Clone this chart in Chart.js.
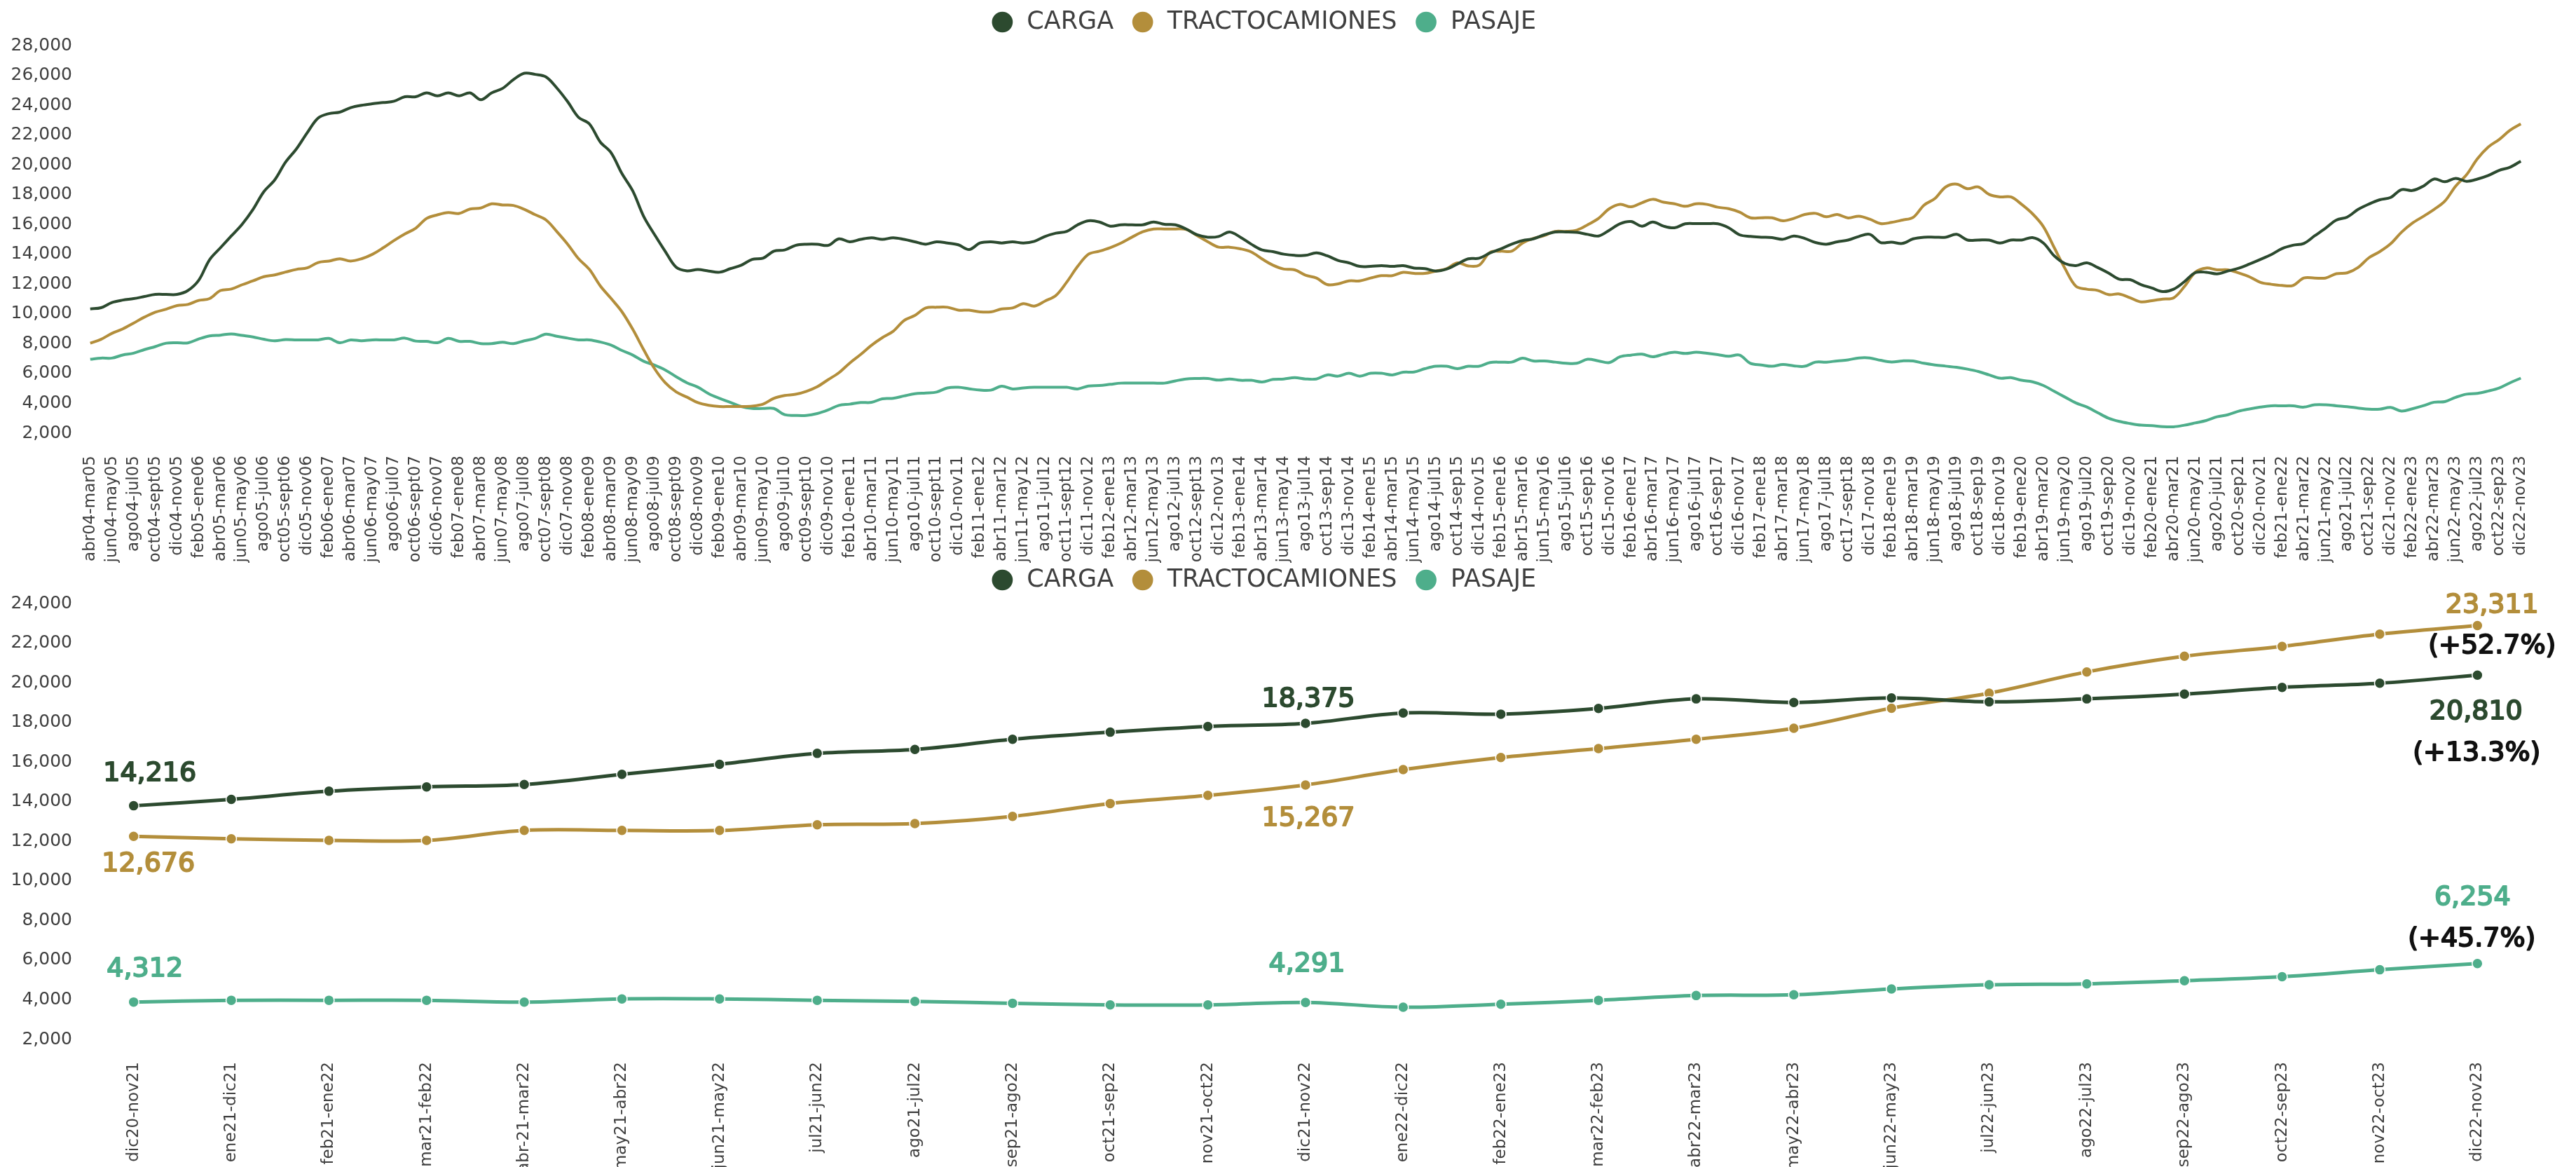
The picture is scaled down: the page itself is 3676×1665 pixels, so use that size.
<!DOCTYPE html>
<html lang="es">
<head>
<meta charset="utf-8">
<title>Ventas de vehículos pesados</title>
<script src="https://cdn.jsdelivr.net/npm/chart.js@4.4.1/dist/chart.umd.min.js"></script>
<style>
  html, body { margin: 0; padding: 0; background: #fff; }
  #lienzo { position: relative; width: 3676px; height: 1665px; overflow: hidden; background: #fff; }
  #lienzo canvas { position: absolute; left: 0; }
  #graficoHistorico { top: -10px; }
  #graficoReciente { top: 786px; }
</style>
</head>
<body>
<div id="lienzo">
  <canvas id="graficoHistorico" width="3676" height="830"></canvas>
  <canvas id="graficoReciente" width="3676" height="879"></canvas>
</div>
<script>
// Acumulado de 12 meses, de abr04-mar05 a nov20-oct21
const cargaHist = [
  10900, 10980, 11330, 11490, 11590, 11730, 11870, 11870, 11870, 12130,
  12820, 14200, 15000, 15790, 16580, 17570, 18760, 19550, 20740, 21630,
  22720, 23700, 24000, 24100, 24400, 24560, 24660, 24740, 24830, 25130,
  25130, 25390, 25190, 25390, 25190, 25390, 24930, 25390, 25690, 26280,
  26710, 26630, 26460, 25720, 24800, 23750, 23310, 22100, 21380, 19980,
  18810, 17110, 15890, 14750, 13690, 13450, 13540, 13440, 13360, 13600,
  13830, 14220, 14300, 14770, 14850, 15160, 15240, 15240, 15160, 15600,
  15400, 15560, 15670, 15560, 15670, 15560, 15400, 15240, 15400, 15320,
  15200, 14880, 15320, 15400, 15320, 15400, 15320, 15430, 15760, 15980,
  16100, 16540, 16810, 16730, 16450, 16540, 16540, 16540, 16730, 16570,
  16540, 16260, 15870, 15710, 15760, 16060, 15710, 15240, 14850, 14740,
  14570, 14490, 14490, 14660, 14460, 14150, 13990, 13750, 13750, 13800,
  13750, 13800, 13640, 13600, 13440, 13570, 13910, 14260, 14300, 14650,
  14930, 15240, 15480, 15600, 15870, 16060, 16060, 16030, 15900, 15790,
  16180, 16620, 16760, 16450, 16730, 16450, 16340, 16610, 16620, 16620,
  16610, 16340, 15870, 15760, 15710, 15680, 15570, 15790, 15630, 15350,
  15240, 15400, 15520, 15760, 15900, 15350, 15380, 15290, 15600, 15710,
  15710, 15710, 15900, 15520, 15520, 15520, 15320, 15520, 15520, 15680,
  15320, 14460, 13940, 13800, 13990, 13680, 13310, 12890, 12860, 12530,
  12300, 12060, 12220, 12730, 13330, 13360, 13250, 13440, 13630, 13910
];
const tractoHist = [
  8600, 8860, 9260, 9560, 9950, 10350, 10680, 10880, 11120, 11200,
  11470, 11590, 12130, 12230, 12520, 12780, 13060, 13180, 13370, 13550,
  13650, 14010, 14110, 14260, 14110, 14260, 14560, 15000, 15490, 15930,
  16310, 16970, 17210, 17360, 17300, 17600, 17670, 17950, 17870, 17840,
  17580, 17220, 16870, 16090, 15240, 14270, 13550, 12450, 11600, 10710,
  9530, 8170, 6900, 5940, 5330, 4980, 4610, 4430, 4350, 4350,
  4350, 4380, 4510, 4900, 5090, 5170, 5370, 5680, 6150, 6620,
  7270, 7840, 8460, 8970, 9400, 10120, 10460, 10960, 11010, 11010,
  10820, 10810, 10700, 10700, 10900, 10960, 11250, 11090, 11430, 11800,
  12700, 13750, 14570, 14770, 15010, 15320, 15710, 16070, 16260, 16260,
  16260, 16230, 15820, 15400, 15040, 15040, 14930, 14720, 14250, 13830,
  13570, 13520, 13160, 12970, 12530, 12580, 12780, 12780, 12970, 13130,
  13130, 13350, 13280, 13280, 13440, 13600, 13990, 13780, 13830, 14690,
  14770, 14770, 15320, 15630, 15820, 16100, 16100, 16180, 16540, 16970,
  17620, 17910, 17750, 18020, 18250, 18060, 17950, 17780, 17950, 17910,
  17720, 17620, 17390, 17010, 17010, 17010, 16810, 16970, 17230, 17310,
  17080, 17230, 17000, 17120, 16920, 16620, 16700, 16860, 17040, 17860,
  18300, 19080, 19270, 18960, 19080, 18580, 18410, 18410, 17910, 17280,
  16420, 15010, 13600, 12420, 12220, 12140, 11860, 11900, 11640, 11370,
  11450, 11560, 11640, 12400, 13360, 13640, 13520, 13520, 13310, 13050
];
const pasajeHist = [
  7520, 7600, 7600, 7810, 7930, 8170, 8370, 8600, 8630, 8620,
  8880, 9090, 9140, 9220, 9120, 9020, 8860, 8760, 8840, 8820,
  8820, 8820, 8920, 8630, 8820, 8760, 8820, 8820, 8820, 8940,
  8740, 8720, 8630, 8920, 8720, 8720, 8570, 8570, 8660, 8570,
  8760, 8920, 9200, 9060, 8940, 8820, 8820, 8680, 8470, 8110,
  7800, 7390, 7130, 6800, 6350, 5940, 5650, 5210, 4900, 4630,
  4350, 4220, 4220, 4220, 3800, 3750, 3750, 3880, 4120, 4430,
  4510, 4620, 4630, 4870, 4900, 5060, 5210, 5260, 5320, 5600,
  5640, 5540, 5450, 5450, 5710, 5530, 5600, 5640, 5640, 5640,
  5640, 5530, 5730, 5760, 5840, 5920, 5920, 5920, 5920, 5920,
  6070, 6200, 6230, 6230, 6120, 6200, 6110, 6110, 6000, 6170,
  6200, 6290, 6200, 6200, 6470, 6390, 6580, 6390, 6580, 6580,
  6470, 6650, 6670, 6890, 7050, 7050, 6890, 7050, 7050, 7300,
  7330, 7330, 7590, 7410, 7410, 7330, 7250, 7250, 7520, 7410,
  7300, 7690, 7800, 7860, 7690, 7860, 7990, 7910, 7990, 7920,
  7830, 7720, 7800, 7250, 7140, 7050, 7170, 7080, 7050, 7330,
  7330, 7410, 7480, 7610, 7610, 7450, 7340, 7410, 7410, 7250,
  7140, 7060, 6980, 6860, 6700, 6470, 6250, 6290, 6110, 6010,
  5760, 5370, 4980, 4590, 4320, 3940, 3570, 3350, 3210, 3100,
  3070, 3000, 2990, 3100, 3250, 3410, 3660, 3800, 4040, 4190
];

// Últimos 25 periodos de 12 meses
const periodosRecientes = [
  'dic20-nov21', 'ene21-dic21', 'feb21-ene22', 'mar21-feb22', 'abr-21-mar22',
  'may21-abr22', 'jun21-may22', 'jul21-jun22', 'ago21-jul22', 'sep21-ago22',
  'oct21-sep22', 'nov21-oct22', 'dic21-nov22', 'ene22-dic22', 'feb22-ene23',
  'mar22-feb23', 'abr22-mar23', 'may22-abr23', 'jun22-may23', 'jul22-jun23',
  'ago22-jul23', 'sep22-ago23', 'oct22-sep23', 'nov22-oct23', 'dic22-nov23'
];
const cargaReciente = [
  14216, 14540, 14950, 15170, 15290, 15800, 16310, 16860, 17060, 17570,
  17930, 18220, 18375, 18900, 18840, 19130, 19610, 19430, 19660, 19460,
  19610, 19850, 20190, 20400, 20810
];
const tractoReciente = [
  12676, 12550, 12470, 12470, 12970, 12970, 12970, 13260, 13320, 13680,
  14330, 14740, 15267, 16040, 16650, 17100, 17570, 18130, 19140, 19900,
  20970, 21760, 22260, 22880, 23311
];
const pasajeReciente = [
  4312, 4400, 4400, 4400, 4310, 4470, 4470, 4400, 4340, 4250,
  4170, 4170, 4291, 4050, 4200, 4400, 4640, 4680, 4970, 5180,
  5230, 5390, 5590, 5940, 6254
];

const colores = { carga: '#2c4a2f', tracto: '#b38e3b', pasaje: '#4eae8b' };

// Etiquetas de periodos móviles: 'abr04-mar05', 'jun04-may05', ...
const meses = ['ene', 'feb', 'mar', 'abr', 'may', 'jun', 'jul', 'ago', 'sep', 'oct', 'nov', 'dic'];
const aniosSept = [5, 6, 7, 8, 9, 10, 11, 12, 13, 18];
function etiquetaPeriodo(k) {
  const ini = 3 + k, fin = ini + 11;
  const aIni = 4 + Math.floor(ini / 12), aFin = 4 + Math.floor(fin / 12);
  let mFin = meses[fin % 12];
  if (mFin === 'sep' && aniosSept.includes(aFin)) mFin = 'sept';
  return meses[ini % 12] + String(aIni).padStart(2, '0') + '-' + mFin + String(aFin).padStart(2, '0');
}
const totalPeriodos = cargaHist.length + cargaReciente.length;
const periodos = Array.from({ length: totalPeriodos }, (_, k) => etiquetaPeriodo(k));

Chart.defaults.font.family = "'DejaVu Sans', sans-serif";
Chart.defaults.color = '#3f3f3f';

// Deja más aire debajo de la leyenda
function espacioLeyenda(extra) {
  return {
    id: 'espacioLeyenda',
    beforeInit(chart) {
      const fitOriginal = chart.legend.fit;
      chart.legend.fit = function () {
        fitOriginal.call(this);
        this.height += extra;
      };
    }
  };
}

const leyenda = {
  position: 'top',
  labels: {
    usePointStyle: true,
    pointStyle: 'circle',
    boxWidth: 35,
    boxHeight: 21,
    padding: 24,
    color: '#3f3f3f',
    font: { size: 35 },
    generateLabels: chart =>
      Chart.defaults.plugins.legend.labels.generateLabels(chart).map(l => ({ ...l, lineWidth: 0 }))
  }
};

function ejeY(max) {
  return {
    min: 2000,
    max,
    grid: { display: false },
    border: { display: false },
    ticks: {
      stepSize: 2000,
      padding: 10,
      labelOffset: -12,
      color: '#3f3f3f',
      font: { size: 25 },
      callback: v => v.toLocaleString('en-US')
    },
    afterFit: s => { s.width = 121; }
  };
}

function ejeX(etiqueta, alto) {
  return {
    offset: true,
    grid: { display: false },
    border: { display: false },
    ticks: {
      autoSkip: false,
      minRotation: 90,
      maxRotation: 90,
      padding: 12,
      color: '#3f3f3f',
      font: { size: 23 },
      callback: (v, i) => etiqueta(i)
    },
    afterFit: s => { s.height = alto; }
  };
}

function serie(nombre, datos, color, grosor, puntos) {
  return {
    label: nombre,
    data: datos,
    borderColor: color,
    backgroundColor: color,
    borderWidth: grosor,
    tension: 0.35,
    pointRadius: puntos ? 7.5 : 0,
    pointBackgroundColor: color,
    pointBorderColor: '#fff',
    pointBorderWidth: 1.5,
    pointHoverRadius: puntos ? 7.5 : 0
  };
}

// Gráfico histórico: todos los periodos de 12 meses
new Chart(document.getElementById('graficoHistorico'), {
  type: 'line',
  data: {
    labels: periodos,
    datasets: [
      serie('CARGA', cargaHist.concat(cargaReciente), colores.carga, 4, false),
      serie('TRACTOCAMIONES', tractoHist.concat(tractoReciente), colores.tracto, 4, false),
      serie('PASAJE', pasajeHist.concat(pasajeReciente), colores.pasaje, 4, false)
    ]
  },
  options: {
    responsive: false,
    animation: false,
    devicePixelRatio: 1,
    layout: { padding: { right: 71 } },
    plugins: { legend: leyenda, tooltip: { enabled: false } },
    scales: {
      x: ejeX(i => (i % 2 === 0 ? periodos[i] : ''), 190),
      y: ejeY(28000)
    }
  },
  plugins: [espacioLeyenda(18)]
});

// Etiquetas de valor y variación sobre puntos concretos
const etiquetasValor = {
  id: 'etiquetasValor',
  afterDatasetsDraw(chart, args, opts) {
    const { ctx } = chart;
    ctx.save();
    ctx.textAlign = 'center';
    ctx.textBaseline = 'middle';
    ctx.font = "38px 'DejaVu Sans'";
    ctx.lineWidth = 2;
    ctx.lineJoin = 'round';
    opts.items.forEach(it => {
      const ds = chart.data.datasets[it.serie];
      const pt = chart.getDatasetMeta(it.serie).data[it.indice];
      let texto, color;
      if (it.base !== undefined) {
        const pct = (ds.data[it.indice] / ds.data[it.base] - 1) * 100;
        texto = '(+' + pct.toFixed(1) + '%)';
        color = '#111';
      } else {
        texto = ds.data[it.indice].toLocaleString('en-US');
        color = ds.borderColor;
      }
      ctx.fillStyle = color;
      ctx.strokeStyle = color;
      ctx.fillText(texto, pt.x + it.dx, pt.y + it.dy);
      ctx.strokeText(texto, pt.x + it.dx, pt.y + it.dy);
    });
    ctx.restore();
  }
};

const ultimo = periodosRecientes.length - 1;
const medio = 12;

// Gráfico reciente: 25 periodos con marcadores
new Chart(document.getElementById('graficoReciente'), {
  type: 'line',
  data: {
    labels: periodosRecientes,
    datasets: [
      serie('CARGA', cargaReciente, colores.carga, 5, true),
      serie('TRACTOCAMIONES', tractoReciente, colores.tracto, 5, true),
      serie('PASAJE', pasajeReciente, colores.pasaje, 5, true)
    ]
  },
  options: {
    responsive: false,
    animation: false,
    devicePixelRatio: 1,
    layout: { padding: { right: 71 } },
    plugins: {
      legend: leyenda,
      tooltip: { enabled: false },
      etiquetasValor: {
        items: [
          { serie: 0, indice: 0, dx: 23, dy: -45 },
          { serie: 1, indice: 0, dx: 21, dy: 40 },
          { serie: 2, indice: 0, dx: 16, dy: -47 },
          { serie: 0, indice: medio, dx: 4, dy: -34 },
          { serie: 1, indice: medio, dx: 4, dy: 48 },
          { serie: 2, indice: medio, dx: 2, dy: -54 },
          { serie: 1, indice: ultimo, dx: 21, dy: -28 },
          { serie: 1, indice: ultimo, base: medio, dx: 21, dy: 30 },
          { serie: 0, indice: ultimo, dx: -2, dy: 53 },
          { serie: 0, indice: ultimo, base: medio, dx: -1, dy: 112 },
          { serie: 2, indice: ultimo, dx: -7, dy: -94 },
          { serie: 2, indice: ultimo, base: medio, dx: -8, dy: -35 }
        ]
      }
    },
    scales: {
      x: ejeX(i => periodosRecientes[i], 170),
      y: ejeY(24000)
    }
  },
  plugins: [espacioLeyenda(18), etiquetasValor]
});
</script>
</body>
</html>
